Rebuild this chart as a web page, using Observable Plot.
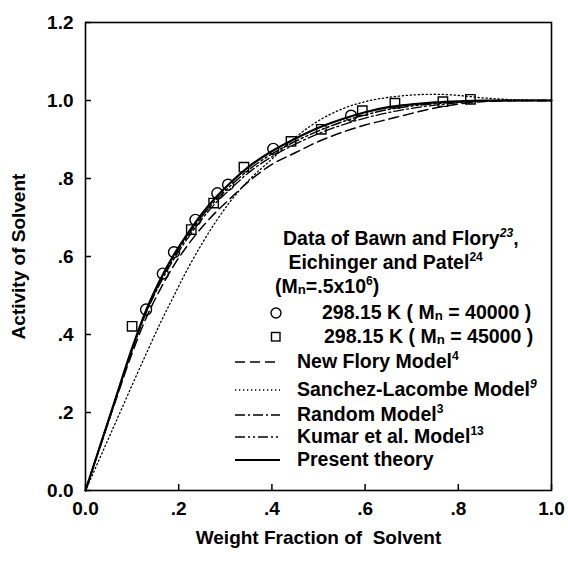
<!DOCTYPE html>
<html><head><meta charset="utf-8">
<script src="https://cdn.jsdelivr.net/npm/d3@7"></script>
<script src="https://cdn.jsdelivr.net/npm/@observablehq/plot@0.6"></script>
<style>
body{margin:0;background:#fff;}
#wrap{position:relative;width:568px;height:561px;font-family:"Liberation Sans",Arial,sans-serif;}
.row{position:absolute;height:26px;display:flex;align-items:center;white-space:pre;font-size:19.5px;font-weight:bold;color:#000;line-height:26px;}
.row sup{font-size:0.62em;position:relative;top:-0.45em;vertical-align:baseline;}
.row sub{font-size:0.68em;position:relative;top:0.3em;vertical-align:baseline;}
.icon{position:absolute;}
</style></head><body><div id="wrap"></div>
<script>
// Axis ticks
const xTicks = [0, 0.2, 0.4, 0.6, 0.8, 1.0];
const xTickLabels = ["0.0", ".2", ".4", ".6", ".8", "1.0"];
const yTicks = [0, 0.2, 0.4, 0.6, 0.8, 1.0, 1.2];
const yTickLabels = ["0.0", ".2", ".4", ".6", ".8", "1.0", "1.2"];

// Experimental data (Mn = 40000, circles)
const circleX = [0.130, 0.166, 0.190, 0.236, 0.283, 0.306, 0.403, 0.570];
const circleY = [0.464, 0.556, 0.611, 0.694, 0.762, 0.784, 0.876, 0.961];
// Experimental data (Mn = 45000, squares)
const squareX = [0.100, 0.227, 0.275, 0.340, 0.441, 0.506, 0.594, 0.664, 0.767, 0.826];
const squareY = [0.421, 0.669, 0.737, 0.829, 0.895, 0.926, 0.974, 0.993, 0.997, 1.003];

// Model curves
const curveX      = [0, 0.02, 0.06, 0.10, 0.13, 0.16, 0.19, 0.22, 0.25, 0.28, 0.31, 0.35, 0.40, 0.45, 0.50, 0.55, 0.60, 0.65, 0.70, 0.75, 0.80, 0.85, 0.90, 0.95, 1.00];
const newFloryY   = [0, 0.072, 0.214, 0.352, 0.442, 0.515, 0.578, 0.630, 0.675, 0.714, 0.748, 0.792, 0.836, 0.866, 0.895, 0.918, 0.937, 0.952, 0.967, 0.981, 0.991, 0.997, 0.999, 1.000, 1.000];
const sanchezY    = [0, 0.054, 0.162, 0.270, 0.350, 0.428, 0.500, 0.570, 0.633, 0.690, 0.740, 0.795, 0.850, 0.905, 0.948, 0.978, 0.997, 1.008, 1.014, 1.016, 1.013, 1.007, 1.003, 1.001, 1.000];
const randomY     = [0, 0.073, 0.217, 0.360, 0.455, 0.530, 0.594, 0.648, 0.696, 0.738, 0.772, 0.815, 0.856, 0.888, 0.915, 0.937, 0.955, 0.969, 0.980, 0.988, 0.994, 0.998, 1.000, 1.000, 1.000];
const kumarY      = [0, 0.073, 0.218, 0.362, 0.458, 0.535, 0.600, 0.654, 0.703, 0.745, 0.780, 0.822, 0.863, 0.895, 0.922, 0.945, 0.963, 0.977, 0.986, 0.992, 0.996, 0.999, 1.000, 1.000, 1.000];
const presentY    = [0, 0.073, 0.219, 0.365, 0.462, 0.540, 0.605, 0.660, 0.710, 0.752, 0.788, 0.830, 0.870, 0.902, 0.930, 0.952, 0.970, 0.983, 0.990, 0.995, 0.998, 1.000, 1.000, 1.000, 1.000];

const seriesNames = ["New Flory Model", "Sanchez-Lacombe Model", "Random Model", "Kumar et al. Model", "Present theory"];
const seriesRefs = ["4", "9", "3", "13", ""];
const seriesY = [newFloryY, sanchezY, randomY, kumarY, presentY];
const seriesDash = ["10,5", "1.3,2.7", "10,3,2,3", "10,3,2,3,2,3", null];
const seriesWidth = [1.5, 1.3, 1.3, 1.5, 2.2];

const curves = seriesY.map(ys => curveX.map((x, i) => ({x, y: ys[i]})));
const circles = circleX.map((x, i) => ({x, y: circleY[i]}));
const squares = squareX.map((x, i) => ({x, y: squareY[i]}));

const plot = Plot.plot({
  width: 568, height: 561,
  marginLeft: 85, marginRight: 17, marginTop: 22, marginBottom: 71,
  style: {fontFamily: "Liberation Sans, Arial, sans-serif", fontSize: "19px", color: "black", background: "white"},
  x: {domain: [0, 1]},
  y: {domain: [0, 1.2]},
  marks: [
    ...curves.map((c, k) => Plot.line(c, {x: "x", y: "y", curve: "monotone-x", stroke: "black",
      strokeWidth: seriesWidth[k], strokeDasharray: seriesDash[k]})),
    Plot.dot(circles, {x: "x", y: "y", r: 5.5, stroke: "black", strokeWidth: 1.4, fill: "none"}),
    Plot.dot(squares, {x: "x", y: "y", symbol: "square", r: 5.3, stroke: "black", strokeWidth: 1.4, fill: "none"}),
    Plot.frame({stroke: "black", strokeWidth: 1.6}),
    Plot.axisX({ticks: xTicks, tickFormat: (d, i) => xTickLabels[i], tickSize: -6, tickPadding: 17,
      fontSize: 19, fontWeight: "bold", strokeWidth: 1.5,
      label: "Weight Fraction of\u00a0 Solvent", labelAnchor: "center", labelOffset: 53, labelArrow: "none"}),
    Plot.axisY({ticks: yTicks, tickFormat: (d, i) => yTickLabels[i], tickSize: -6, tickPadding: 18,
      fontSize: 19, fontWeight: "bold", strokeWidth: 1.5,
      label: "Activity of Solvent", labelAnchor: "center", labelOffset: 74, labelArrow: "none"})
  ]
});
const wrap = document.getElementById("wrap");
wrap.appendChild(plot);

// Legend overlay
function row(left, cy, html) {
  const d = document.createElement("div");
  d.className = "row";
  d.style.left = left + "px";
  d.style.top = (cy - 13) + "px";
  d.innerHTML = html;
  wrap.appendChild(d);
}
function icon(left, top, w, h, inner) {
  const s = document.createElementNS("http://www.w3.org/2000/svg", "svg");
  s.setAttribute("class", "icon");
  s.setAttribute("width", w); s.setAttribute("height", h);
  s.style.left = left + "px"; s.style.top = top + "px";
  s.innerHTML = inner;
  wrap.appendChild(s);
}
row(283, 238, "Data of Bawn and Flory<sup><i>23</i></sup>,");
row(283, 262, " Eichinger and Patel<sup>24</sup>");
row(275, 286, "(M<sub>n</sub>=.5x10<sup>6</sup>)");
icon(268, 305, 16, 16, '<circle cx="8" cy="8" r="5" fill="none" stroke="black" stroke-width="1.4"/>');
row(322, 312, "298.15 K ( M<sub>n</sub> = 40000 )");
icon(268, 329, 16, 16, '<rect x="3.5" y="3.5" width="8.5" height="8.5" fill="none" stroke="black" stroke-width="1.4"/>');
row(324, 336, "298.15 K ( M<sub>n</sub> = 45000 )");
const legY = [362, 390, 415, 437, 460];
seriesNames.forEach((name, k) => {
  const dash = seriesDash[k] ? `stroke-dasharray="${seriesDash[k]}"` : "";
  icon(235, legY[k] - 5, 46, 10, `<line x1="0" y1="5" x2="45" y2="5" stroke="black" stroke-width="${seriesWidth[k]}" ${dash}/>`);
  const sup = seriesRefs[k] ? (k === 1 ? `<sup><i>${seriesRefs[k]}</i></sup>` : `<sup>${seriesRefs[k]}</sup>`) : "";
  row(297, legY[k] - 1, name + sup);
});
</script></body></html>
